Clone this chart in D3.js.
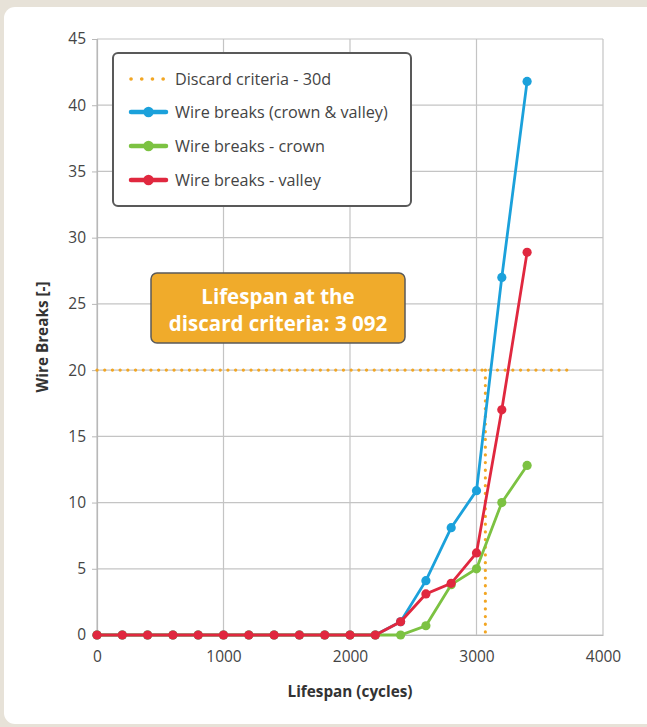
<!DOCTYPE html>
<html>
<head>
<meta charset="utf-8">
<script src="https://cdn.jsdelivr.net/npm/d3@7"></script>
<style>
  html, body { margin: 0; padding: 0; background: #e7e2d8; overflow: hidden; }
  svg { display: block; }
</style>
</head>
<body>
<svg id="chart" width="760" height="727"></svg>
<script>
const cycles = [0, 200, 400, 600, 800, 1000, 1200, 1400, 1600, 1800, 2000, 2200, 2400, 2600, 2800, 3000, 3200, 3400];
const crownValley = [0, 0, 0, 0, 0, 0, 0, 0, 0, 0, 0, 0, 1, 4.1, 8.1, 10.9, 27, 41.8];
const crown       = [0, 0, 0, 0, 0, 0, 0, 0, 0, 0, 0, 0, 0, 0.7, 3.8, 5.0, 10, 12.8];
const valley      = [0, 0, 0, 0, 0, 0, 0, 0, 0, 0, 0, 0, 1, 3.1, 3.9, 6.2, 17, 28.9];
const discardLevel = 20;
const discardLifespan = 3070;
const discardLineEnd = 3720;
const xTicks = [0, 1000, 2000, 3000, 4000];
const yTicks = [0, 5, 10, 15, 20, 25, 30, 35, 40, 45];
const seriesNames = ["Wire breaks (crown & valley)", "Wire breaks - crown", "Wire breaks - valley"];
const seriesColors = ["#1ba1db", "#7cc242", "#e0283f"];
const discardName = "Discard criteria - 30d";
const discardColor = "#f2a623";
const annotationLines = ["Lifespan at the", "discard criteria: 3 092"];

const FONT = "'Open Sans', sans-serif";
const svg = d3.select("#chart");

// panel
svg.append("rect").attr("x", 4).attr("y", 7).attr("width", 800).attr("height", 717)
  .attr("rx", 11).attr("fill", "#ffffff");

const x = d3.scaleLinear().domain([0, 4000]).range([97, 603]);
const y = d3.scaleLinear().domain([0, 45]).range([635, 39]);

// grid
const grid = svg.append("g");
grid.selectAll(".vg").data(xTicks).join("line")
  .attr("x1", d => x(d)).attr("x2", d => x(d)).attr("y1", y(45)).attr("y2", y(0))
  .attr("stroke", "#c4c4c4").attr("stroke-width", 1.2);
grid.selectAll(".hg").data(yTicks).join("line")
  .attr("x1", x(0)).attr("x2", x(4000)).attr("y1", d => y(d)).attr("y2", d => y(d))
  .attr("stroke", "#c4c4c4").attr("stroke-width", 1.2);

// axes
const yAxis = svg.append("g").attr("transform", `translate(${x(0)},0)`)
  .call(d3.axisLeft(y).tickValues(yTicks).tickSize(5).tickPadding(6).tickFormat(d3.format("d")));
const xAxis = svg.append("g").attr("transform", `translate(0,${y(0)})`)
  .call(d3.axisBottom(x).tickValues(xTicks).tickSize(0).tickPadding(16).tickFormat(d3.format("d")));
[yAxis, xAxis].forEach(a => {
  a.select(".domain").attr("stroke", "#b8b8b8").attr("stroke-width", 1.2);
  a.selectAll(".tick line").attr("stroke", "#b8b8b8");
  a.selectAll("text").attr("fill", "#444").attr("font-family", FONT).attr("font-size", 15.5);
});

// axis titles
svg.append("text").attr("x", x(2000)).attr("y", 697).attr("text-anchor", "middle")
  .attr("font-family", FONT).attr("font-weight", "bold").attr("font-size", 15.3).attr("fill", "#333")
  .text("Lifespan (cycles)");
svg.append("text").attr("transform", `translate(48,${y(22.5)}) rotate(-90)`).attr("text-anchor", "middle")
  .attr("font-family", FONT).attr("font-weight", "bold").attr("font-size", 15.3).attr("fill", "#333")
  .text("Wire Breaks [-]");

// discard criteria dotted lines
function dotted(x1, y1, x2, y2) {
  svg.append("line").attr("x1", x1).attr("y1", y1).attr("x2", x2).attr("y2", y2)
    .attr("stroke", discardColor).attr("stroke-width", 3.2)
    .attr("stroke-linecap", "round").attr("stroke-dasharray", "0.1 7.6");
}
dotted(x(0), y(discardLevel), x(discardLineEnd), y(discardLevel));
dotted(x(discardLifespan), y(discardLevel), x(discardLifespan), y(0));

// series
const seriesData = [crownValley, crown, valley];
const line = d3.line().x((d, i) => x(cycles[i])).y(d => y(d));
seriesData.forEach((vals, si) => {
  const g = svg.append("g");
  g.append("path").datum(vals).attr("d", line).attr("fill", "none")
    .attr("stroke", seriesColors[si]).attr("stroke-width", 2.8);
  g.selectAll("circle").data(vals).join("circle")
    .attr("cx", (d, i) => x(cycles[i])).attr("cy", d => y(d)).attr("r", 4.6)
    .attr("fill", seriesColors[si]);
});

// legend
const lg = svg.append("g");
lg.append("rect").attr("x", 113).attr("y", 53).attr("width", 298).attr("height", 153)
  .attr("rx", 5).attr("fill", "#fff").attr("stroke", "#595959").attr("stroke-width", 2);
const rows = [79, 112, 146, 180];
lg.append("line").attr("x1", 131).attr("x2", 166).attr("y1", rows[0]).attr("y2", rows[0])
  .attr("stroke", discardColor).attr("stroke-width", 3.6).attr("stroke-linecap", "round")
  .attr("stroke-dasharray", "0.1 10.6");
lg.append("text").attr("x", 175).attr("y", rows[0] + 5.5).attr("font-family", FONT)
  .attr("font-size", 16.2).attr("fill", "#444").text(discardName);
seriesNames.forEach((n, i) => {
  const yy = rows[i + 1];
  lg.append("line").attr("x1", 131).attr("x2", 166).attr("y1", yy).attr("y2", yy)
    .attr("stroke", seriesColors[i]).attr("stroke-width", 4.5).attr("stroke-linecap", "round");
  lg.append("circle").attr("cx", 148.5).attr("cy", yy).attr("r", 5.2).attr("fill", seriesColors[i]);
  lg.append("text").attr("x", 175).attr("y", yy + 5.5).attr("font-family", FONT)
    .attr("font-size", 16.2).attr("fill", "#444").text(n);
});

// annotation
const an = svg.append("g");
an.append("rect").attr("x", 151).attr("y", 273).attr("width", 254).attr("height", 70)
  .attr("rx", 6).attr("fill", "#f0ab2b").attr("stroke", "#5a5a5a").attr("stroke-width", 1.5);
annotationLines.forEach((t, i) => {
  an.append("text").attr("x", 278).attr("y", 303.5 + i * 27).attr("text-anchor", "middle")
    .attr("font-family", FONT).attr("font-weight", "bold").attr("font-size", 20.5)
    .attr("fill", "#fff").text(t);
});
</script>
</body>
</html>
